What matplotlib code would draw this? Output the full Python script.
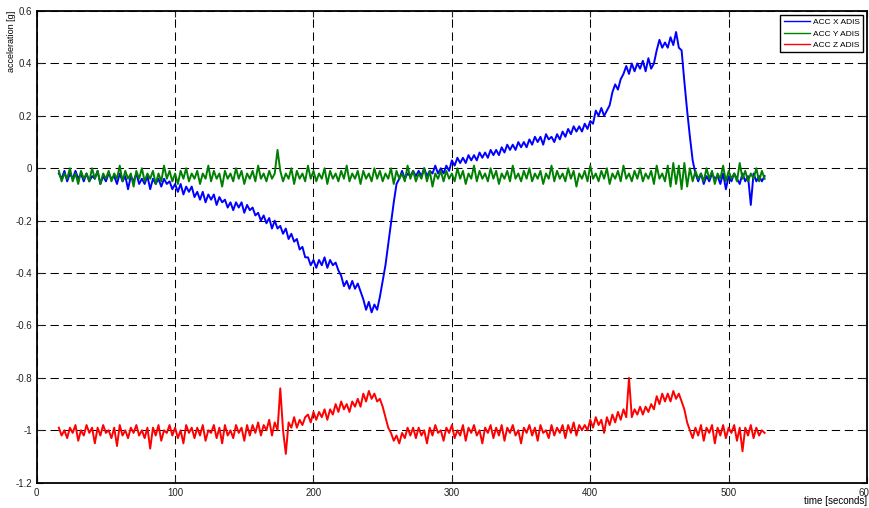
import numpy as np
import matplotlib
matplotlib.use("Agg")
import matplotlib.pyplot as plt

plt.rcParams['font.family'] = ['Liberation Sans', 'DejaVu Sans']

# sample times [s], one every 2 s
t = np.arange(16, 527, 2)

acc_x = [
    -0.02, -0.04, -0.01, -0.05, -0.02, -0.04, -0.01, -0.04, -0.02, -0.05,
    -0.02, -0.05, -0.03, -0.04, -0.01, -0.06, -0.03, -0.05, -0.02, -0.04,
    -0.03, -0.06, -0.02, -0.05, -0.03, -0.08, -0.03, -0.05, -0.02, -0.06,
    -0.04, -0.06, -0.03, -0.08, -0.04, -0.06, -0.04, -0.07, -0.04, -0.06,
    -0.05, -0.08, -0.06, -0.09, -0.06, -0.10, -0.07, -0.09, -0.07, -0.11,
    -0.09, -0.12, -0.09, -0.13, -0.10, -0.12, -0.10, -0.14, -0.11, -0.13,
    -0.12, -0.15, -0.13, -0.16, -0.13, -0.15, -0.13, -0.17, -0.14, -0.16,
    -0.15, -0.18, -0.17, -0.20, -0.18, -0.21, -0.19, -0.23, -0.20, -0.23,
    -0.22, -0.25, -0.23, -0.27, -0.25, -0.28, -0.27, -0.31, -0.30, -0.34,
    -0.34, -0.37, -0.35, -0.38, -0.35, -0.37, -0.34, -0.38, -0.35, -0.37,
    -0.36, -0.39, -0.41, -0.45, -0.43, -0.46, -0.43, -0.46, -0.44, -0.47,
    -0.50, -0.54, -0.51, -0.55, -0.52, -0.54, -0.49, -0.43, -0.37, -0.29,
    -0.21, -0.13, -0.06, -0.04, -0.01, -0.04, -0.02, -0.03, -0.01, -0.03,
    -0.01, -0.03, 0.00, -0.03, -0.01, -0.02, 0.01, -0.02, 0.00, -0.02,
    0.01, -0.01, 0.03, 0.01, 0.04, 0.02, 0.04, 0.02, 0.05, 0.03,
    0.05, 0.03, 0.06, 0.04, 0.06, 0.04, 0.07, 0.05, 0.07, 0.05,
    0.08, 0.06, 0.09, 0.07, 0.09, 0.07, 0.10, 0.08, 0.10, 0.08,
    0.11, 0.09, 0.12, 0.10, 0.12, 0.09, 0.13, 0.11, 0.12, 0.10,
    0.13, 0.11, 0.14, 0.12, 0.15, 0.13, 0.16, 0.14, 0.16, 0.14,
    0.17, 0.15, 0.18, 0.17, 0.22, 0.20, 0.23, 0.20, 0.22, 0.24,
    0.29, 0.32, 0.30, 0.34, 0.36, 0.39, 0.36, 0.40, 0.37, 0.40,
    0.38, 0.41, 0.37, 0.42, 0.38, 0.40, 0.45, 0.49, 0.46, 0.48,
    0.46, 0.50, 0.47, 0.52, 0.46, 0.45, 0.33, 0.22, 0.12, 0.03,
    -0.02, -0.05, -0.02, -0.06, -0.03, -0.05, -0.02, -0.04, -0.03, -0.06,
    -0.02, -0.08, -0.03, -0.05, -0.02, -0.04, -0.06, -0.02, -0.05, -0.03,
    -0.14, -0.02, -0.05, -0.03, -0.05, -0.03,
]

acc_y = [
    -0.01, -0.05, -0.02, -0.04, 0.00, -0.05, -0.02, -0.06, -0.01, -0.04,
    -0.02, -0.05, 0.00, -0.04, -0.01, -0.06, -0.02, -0.04, -0.01, -0.05,
    -0.02, -0.04, 0.01, -0.05, -0.01, -0.04, -0.02, -0.07, -0.01, -0.04,
    0.00, -0.05, -0.02, -0.04, -0.01, -0.06, -0.02, -0.05, 0.01, -0.04,
    -0.01, -0.05, -0.02, -0.06, -0.01, -0.04, 0.00, -0.05, -0.02, -0.04,
    -0.01, -0.06, -0.02, -0.04, 0.01, -0.05, -0.01, -0.04, -0.02, -0.07,
    -0.01, -0.04, -0.02, -0.05, 0.00, -0.04, -0.01, -0.06, -0.02, -0.04,
    -0.01, -0.05, 0.01, -0.04, -0.02, -0.05, -0.01, -0.04, -0.02, 0.07,
    -0.01, -0.05, -0.02, -0.04, 0.00, -0.06, -0.01, -0.04, -0.02, -0.05,
    0.01, -0.04, -0.01, -0.05, -0.02, -0.04, 0.00, -0.06, -0.01, -0.04,
    -0.02, -0.05, -0.01, -0.04, 0.01, -0.05, -0.02, -0.04, -0.01, -0.06,
    -0.01, -0.04, -0.02, -0.05, 0.00, -0.04, -0.01, -0.05, -0.02, -0.04,
    0.00, -0.06, -0.01, -0.04, -0.02, -0.05, 0.01, -0.04, -0.01, -0.05,
    -0.02, -0.04, 0.00, -0.05, -0.01, -0.07, -0.02, -0.04, -0.01, -0.05,
    -0.01, -0.04, -0.02, -0.05, 0.00, -0.04, -0.01, -0.06, -0.02, -0.04,
    0.01, -0.05, -0.01, -0.04, -0.02, -0.05, 0.00, -0.04, -0.01, -0.06,
    -0.02, -0.04, -0.01, -0.05, 0.01, -0.04, -0.02, -0.05, -0.01, -0.04,
    0.00, -0.05, -0.02, -0.04, -0.01, -0.06, -0.02, -0.04, 0.01, -0.05,
    -0.01, -0.04, -0.02, -0.05, 0.00, -0.04, -0.01, -0.07, -0.02, -0.04,
    -0.01, -0.05, 0.01, -0.04, -0.02, -0.05, -0.01, -0.04, 0.00, -0.06,
    -0.02, -0.04, -0.01, -0.05, 0.01, -0.04, -0.02, -0.05, -0.01, -0.04,
    0.00, -0.05, -0.02, -0.04, -0.01, -0.06, 0.01, -0.04, -0.02, -0.05,
    0.01, -0.07, 0.02, -0.06, 0.01, -0.08, 0.02, -0.07, 0.00, -0.05,
    -0.01, -0.04, -0.02, -0.05, 0.00, -0.04, -0.01, -0.06, -0.02, -0.04,
    0.01, -0.05, -0.01, -0.04, -0.02, -0.05, 0.02, -0.04, -0.01, -0.05,
    -0.02, -0.04, 0.00, -0.05, -0.01, -0.04,
]

acc_z = [
    -0.99, -1.02, -1.00, -1.03, -0.99, -1.01, -0.98, -1.04, -1.00, -1.02,
    -0.98, -1.01, -0.99, -1.05, -0.99, -1.02, -0.98, -1.01, -1.00, -1.03,
    -0.99, -1.06, -0.98, -1.02, -1.00, -1.03, -0.99, -1.01, -0.98, -1.02,
    -1.00, -1.03, -0.99, -1.07, -0.99, -1.02, -0.98, -1.04, -1.00, -1.01,
    -0.98, -1.02, -0.99, -1.03, -1.00, -1.05, -0.98, -1.01, -0.99, -1.03,
    -0.99, -1.02, -0.98, -1.04, -1.00, -1.01, -0.98, -1.03, -0.99, -1.05,
    -0.98, -1.02, -1.00, -1.03, -0.98, -1.01, -0.99, -1.04, -0.98, -1.02,
    -0.98, -1.01, -0.97, -1.02, -0.98, -1.00, -0.96, -1.02, -0.97, -1.00,
    -0.84, -1.00, -1.09, -0.97, -0.99, -0.95, -0.99, -0.96, -0.98, -0.95,
    -0.94, -0.97, -0.93, -0.96, -0.93, -0.95, -0.92, -0.96, -0.92, -0.94,
    -0.90, -0.93, -0.89, -0.92, -0.90, -0.93, -0.89, -0.91, -0.88, -0.91,
    -0.86, -0.89, -0.85, -0.88, -0.86, -0.89, -0.88, -0.91, -0.95, -0.99,
    -1.01, -1.04, -1.02, -1.05, -1.01, -1.03, -0.99, -1.02, -0.99, -1.03,
    -0.99, -1.02, -1.00, -1.05, -0.99, -1.02, -0.98, -1.01, -1.00, -1.04,
    -0.99, -1.01, -0.98, -1.03, -1.00, -1.02, -0.98, -1.04, -0.99, -1.01,
    -0.98, -1.02, -1.00, -1.05, -0.99, -1.01, -0.98, -1.03, -0.99, -1.02,
    -0.98, -1.04, -0.99, -1.01, -0.98, -1.02, -1.00, -1.05, -0.99, -1.01,
    -0.98, -1.02, -0.99, -1.04, -0.98, -1.01, -1.00, -1.03, -0.98, -1.02,
    -0.99, -1.01, -0.98, -1.03, -0.98, -1.01, -0.97, -1.02, -0.98, -1.00,
    -0.98, -1.00, -0.96, -0.99, -0.95, -0.98, -0.96, -1.01, -0.95, -0.98,
    -0.94, -0.97, -0.93, -0.96, -0.92, -0.95, -0.80, -0.95, -0.92, -0.94,
    -0.91, -0.94, -0.91, -0.93, -0.90, -0.92, -0.87, -0.90, -0.86, -0.89,
    -0.86, -0.89, -0.85, -0.88, -0.86, -0.89, -0.92, -0.97, -1.00, -1.03,
    -0.99, -1.02, -0.98, -1.04, -0.99, -1.01, -0.98, -1.05, -0.99, -1.02,
    -0.98, -1.03, -0.99, -1.01, -0.98, -1.04, -0.99, -1.08, -0.99, -1.02,
    -0.98, -1.03, -0.99, -1.02, -1.00, -1.01,
]

labels = ['ACC X ADIS', 'ACC Y ADIS', 'ACC Z ADIS']
colors = ['#0000ff', '#008000', '#ff0000']

fig = plt.figure(figsize=(8.7, 5.08), dpi=100)
ax = fig.add_axes([0.0422, 0.0498, 0.9544, 0.9285])

for vals, lab, col in zip([acc_x, acc_y, acc_z], labels, colors):
    ax.plot(t, vals, color=col, lw=1.4, label=lab)

ax.set_xlim(0, 600)
ax.set_ylim(-1.2, 0.6)
ax.set_xticks(np.arange(0, 601, 100))
ax.set_yticks(np.round(np.arange(-1.2, 0.61, 0.2), 1))
ax.set_yticklabels(['-1.2', '-1', '-0.8', '-0.6', '-0.4', '-0.2', '0', '0.2', '0.4', '0.6'])

ax.grid(True, color='black', linestyle=(0, (8, 4.5)), linewidth=0.75)
ax.tick_params(direction='in', length=4, labelsize=7, top=True, right=True,
               colors='#222222')
for s in ax.spines.values():
    s.set_linewidth(1.3)

ax.set_xlabel('time [seconds]', fontsize=7, loc='right')
ax.xaxis.set_label_coords(1.0, -0.029)
ax.set_ylabel('acceleration [g]', fontsize=6.5, loc='top', labelpad=-1)

leg = ax.legend(loc='upper right', fontsize=6, fancybox=False, framealpha=1,
                edgecolor='black', handlelength=3.2, handletextpad=0.3,
                borderpad=0.45, labelspacing=0.4, borderaxespad=0.45)
leg.get_frame().set_linewidth(1.0)
for line in leg.get_lines():
    line.set_linewidth(1.0)

fig.savefig('out.png', dpi=100)
